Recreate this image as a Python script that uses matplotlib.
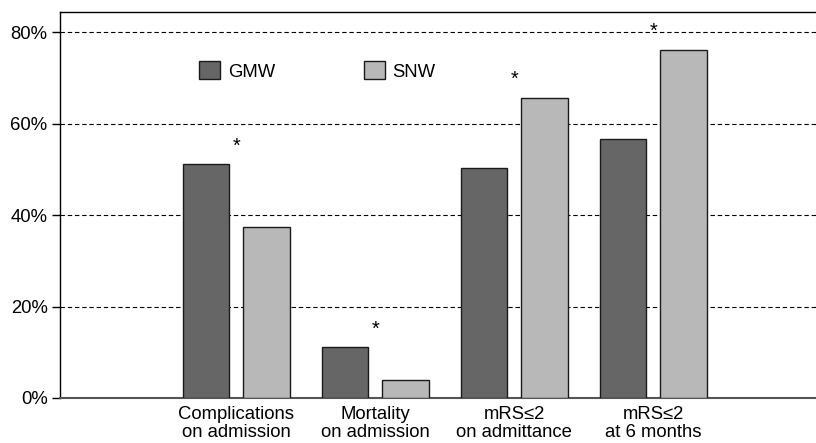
import matplotlib
matplotlib.use("Agg")
import matplotlib.pyplot as plt
from matplotlib.patches import Patch
import numpy as np

plt.rcParams['font.family'] = ['Liberation Sans', 'DejaVu Sans']

categories = ["Complications\non admission", "Mortality\non admission",
              "mRS\u22642\non admittance", "mRS\u22642\nat 6 months"]
gmw = [51.1, 11.1, 50.3, 56.6]
snw = [37.4, 4.0, 65.6, 76.1]
significant = ["*", "*", "*", "*"]
yticks = [0, 20, 40, 60, 80]

FS = 13.3
fig = plt.figure(figsize=(8.16, 4.43), dpi=100)
ax = fig.add_axes([60/816, 45/443, 756/816, 386/443])

x = np.arange(1, len(categories) + 1)
w = 0.335
off = 0.2176
ax.bar(x - off, gmw, w, color='#666666', edgecolor='#1a1a1a', linewidth=1.0, zorder=3)
ax.bar(x + off, snw, w, color='#b8b8b8', edgecolor='#1a1a1a', linewidth=1.0, zorder=3)

for xi, g, s, m in zip(x, gmw, snw, significant):
    ax.text(xi, max(g, s) + 2.8, m, ha='center', va='baseline', fontsize=FS + 1, zorder=4)

ax.set_xlim(1 - 1.266, 4 + 1.169)
ax.set_ylim(0, 84.4)
ax.set_yticks(yticks)
ax.set_yticklabels([f"{v}%" for v in yticks], fontsize=FS)
ax.set_xticks(x)
ax.set_xticklabels(categories, fontsize=FS, linespacing=1.05)
ax.tick_params(axis='x', length=0, pad=6)
ax.tick_params(axis='y', length=6, width=1, pad=3, direction='out')

for v in yticks[1:]:
    ax.axhline(v, color='black', lw=0.8, linestyle=(0, (4, 2.5)), zorder=1)

ax.spines['right'].set_visible(False)
ax.spines['top'].set_linewidth(1.0)
ax.spines['left'].set_linewidth(1.0)
ax.spines['bottom'].set_color('#555555')
ax.spines['bottom'].set_linewidth(1.5)

handles = [Patch(facecolor='#666666', edgecolor='#1a1a1a', linewidth=1.0, label='GMW'),
           Patch(facecolor='#b8b8b8', edgecolor='#1a1a1a', linewidth=1.0, label='SNW')]
ax.legend(handles=handles, ncol=2, frameon=False, fontsize=FS,
          loc='center left', bbox_to_anchor=((199 - 60) / 756, (398 - 71) / 386),
          borderpad=0, borderaxespad=0, handlelength=1.15, handleheight=1.08,
          handletextpad=0.4, columnspacing=4.8)

fig.savefig("out.png", dpi=100)
